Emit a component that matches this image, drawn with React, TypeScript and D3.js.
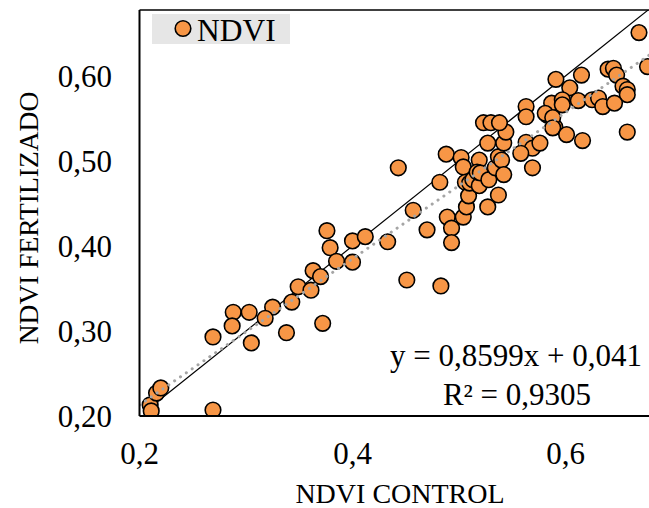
import React from "react";
import * as d3 from "d3";

const controlX: number[] = [
  0.210, 0.211, 0.216, 0.220, 0.269, 0.269, 0.288, 0.287, 0.303, 0.305,
  0.325, 0.318, 0.338, 0.343, 0.349, 0.361, 0.363, 0.370, 0.376, 0.379,
  0.385, 0.400, 0.412, 0.400, 0.433, 0.451, 0.457, 0.470, 0.483, 0.372,
  0.443, 0.489, 0.493, 0.493, 0.504, 0.507, 0.482, 0.488, 0.502, 0.504,
  0.506, 0.509, 0.510, 0.513, 0.519, 0.519, 0.517, 0.520, 0.527, 0.528,
  0.527, 0.534, 0.537, 0.537, 0.540, 0.542, 0.542, 0.544, 0.523, 0.530,
  0.538, 0.563, 0.563, 0.563, 0.569, 0.558, 0.569, 0.583, 0.587, 0.590,
  0.669, 0.677, 0.640, 0.645, 0.648, 0.654, 0.658, 0.658, 0.591, 0.615,
  0.604, 0.597, 0.597, 0.612, 0.625, 0.631, 0.635, 0.646, 0.581, 0.588,
  0.588, 0.601, 0.616, 0.658, 0.576,
];

const fertilizadoY: number[] = [
  0.213, 0.206, 0.227, 0.233, 0.207, 0.293, 0.322, 0.306, 0.322, 0.286,
  0.328, 0.315, 0.298, 0.334, 0.352, 0.348, 0.371, 0.364, 0.418, 0.398,
  0.382, 0.406, 0.411, 0.381, 0.405, 0.360, 0.442, 0.419, 0.353, 0.309,
  0.492, 0.434, 0.421, 0.404, 0.434, 0.446, 0.475, 0.508, 0.504, 0.493,
  0.475, 0.459, 0.474, 0.478, 0.501, 0.471, 0.487, 0.486, 0.521, 0.478,
  0.446, 0.492, 0.460, 0.505, 0.501, 0.484, 0.521, 0.534, 0.545, 0.545,
  0.545, 0.564, 0.552, 0.522, 0.515, 0.509, 0.492, 0.554, 0.568, 0.540,
  0.651, 0.611, 0.608, 0.609, 0.601, 0.588, 0.584, 0.578, 0.596, 0.601,
  0.586, 0.572, 0.566, 0.571, 0.572, 0.574, 0.564, 0.568, 0.556, 0.551,
  0.539, 0.531, 0.524, 0.534, 0.521,
];

const xTicks: number[] = [0.2, 0.4, 0.6];
const yTicks: number[] = [0.2, 0.3, 0.4, 0.5, 0.6];
const slope = 0.8599;
const intercept = 0.041;
const equationText = "y = 0,8599x + 0,041";
const r2Text = "R² = 0,9305";
const seriesName = "NDVI";
const xTitle = "NDVI CONTROL";
const yTitle = "NDVI FERTILIZADO";
const oneToOne: number[] = [0.21, 0.68];

const W = 649;
const H = 508;
const FONT = "'Liberation Serif', 'Times New Roman', serif";
const ORANGE = "#F79646";

export default function App() {
  const x = d3.scaleLinear().domain([0.2, 0.68]).range([139.5, 650.7]);
  const y = d3.scaleLinear().domain([0.2, 0.6776]).range([416, 10]);
  const [x0, x1] = x.range();
  const [yb, yt] = y.range();

  const pts = controlX.map((v, i) => [v, fertilizadoY[i]] as [number, number]);
  const line = d3
    .line<[number, number]>()
    .x((d) => x(d[0]))
    .y((d) => y(d[1]));
  const xd = x.domain();
  const trend: [number, number][] = [
    [xd[0], slope * xd[0] + intercept],
    [xd[1], slope * xd[1] + intercept],
  ];
  const ident: [number, number][] = oneToOne.map((v) => [v, v] as [number, number]);
  const fmtY = (v: number) => v.toFixed(2).replace(".", ",");
  const fmtX = (v: number) => v.toFixed(1).replace(".", ",");

  return (
    <svg
      width={W}
      height={H}
      style={{ position: "absolute", left: 0, top: 0, background: "#fff" }}
      fontFamily={FONT}
    >
      <defs>
        <clipPath id="plot">
          <rect x={x0} y={yt} width={x1 - x0} height={yb - yt} />
        </clipPath>
      </defs>
      <rect x={0} y={0} width={W} height={H} fill="#fff" />
      <g clipPath="url(#plot)">
        <path d={line(ident) || ""} stroke="#000" strokeWidth={1.2} fill="none" />
        {pts.map((p, i) => (
          <circle
            key={i}
            cx={x(p[0])}
            cy={y(p[1])}
            r={7.8}
            fill={ORANGE}
            stroke="#000"
            strokeWidth={1.6}
          />
        ))}
        <path
          d={line(trend) || ""}
          stroke="#A5A5A5"
          strokeWidth={3}
          strokeDasharray="0.1 7"
          strokeLinecap="round"
          fill="none"
        />
      </g>
      {/* plot border */}
      <line x1={x0} x2={x1} y1={yt} y2={yt} stroke="#000" strokeWidth={1.5} />
      <line x1={x1} x2={x1} y1={yt} y2={yb} stroke="#000" strokeWidth={1.5} />
      <line x1={x0} x2={x0} y1={yt} y2={yb} stroke="#000" strokeWidth={2} />
      <line x1={x0} x2={x1} y1={yb} y2={yb} stroke="#000" strokeWidth={2} />

      {/* y ticks */}
      {yTicks.map((t) => (
        <text
          key={t}
          x={112}
          y={y(t)}
          dy="0.35em"
          textAnchor="end"
          fontSize={31}
          fill="#000"
        >
          {fmtY(t)}
        </text>
      ))}
      {/* x ticks */}
      {xTicks.map((t) => (
        <text key={t} x={x(t)} y={464} textAnchor="middle" fontSize={31} fill="#000">
          {fmtX(t)}
        </text>
      ))}
      <text x={400} y={503} textAnchor="middle" fontSize={28} fill="#000">
        {xTitle}
      </text>
      <text
        transform="translate(38,218) rotate(-90)"
        textAnchor="middle"
        fontSize={27.5}
        fill="#000"
      >
        {yTitle}
      </text>

      {/* legend */}
      <rect x={152} y={14} width={138} height={30} fill="#E6E6E6" />
      <circle cx={183} cy={28.5} r={7.8} fill={ORANGE} stroke="#000" strokeWidth={1.6} />
      <text x={197} y={41} fontSize={31.5} fill="#000">
        {seriesName}
      </text>

      {/* equation */}
      <text x={516} y={366} textAnchor="middle" fontSize={31} fill="#000">
        {equationText}
      </text>
      <text x={517} y={405} textAnchor="middle" fontSize={31} fill="#000">
        {r2Text}
      </text>
    </svg>
  );
}
